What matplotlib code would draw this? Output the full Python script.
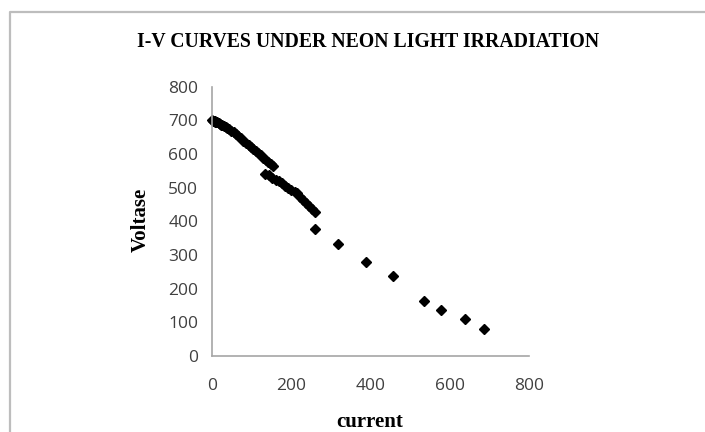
import matplotlib.pyplot as plt
from matplotlib.lines import Line2D

# I-V data
current = [0, 2, 4, 6, 8, 10, 13, 16, 19, 22, 26, 30, 34, 38, 43, 48, 54, 60,
           66, 72, 79, 86, 92, 98, 104, 110, 117, 123, 129, 135, 142, 148, 154,
           134, 143, 152, 160, 168, 176, 184, 192, 200, 208, 215, 222, 230, 236,
           244, 252, 259, 259, 318, 388, 458, 535, 579, 638, 688]
voltage = [700, 699, 698, 697, 696, 695, 694, 692, 690, 688, 686, 683, 680, 677,
           674, 670, 665, 659, 653, 647, 640, 633, 627, 621, 615, 609, 602, 596,
           589, 583, 576, 570, 565,
           542, 538, 530, 524, 520, 514, 506, 500, 494, 488, 483, 474, 464, 456,
           447, 438, 428, 377, 333, 278, 238, 162, 136, 110, 80]

x_ticks = [0, 200, 400, 600, 800]
y_ticks = [0, 100, 200, 300, 400, 500, 600, 700, 800]

fig = plt.figure(figsize=(7.05, 4.32), dpi=100)
ax = fig.add_axes([0.301, 0.176, 0.449, 0.623])

ax.plot(current, voltage, linestyle='none', marker='D', markersize=5.5,
        color='black', clip_on=False)

ax.set_xlim(0, 800)
ax.set_ylim(0, 800)
ax.set_xticks(x_ticks)
ax.set_yticks(y_ticks)
ax.tick_params(length=0, labelsize=12.5, labelcolor='#404040')
ax.tick_params(axis='x', pad=16)
ax.tick_params(axis='y', pad=10)
for lab in ax.get_xticklabels() + ax.get_yticklabels():
    lab.set_fontfamily('Open Sans')

for side in ['top', 'right']:
    ax.spines[side].set_visible(False)
for side in ['left', 'bottom']:
    ax.spines[side].set_color('#a6a6a6')
    ax.spines[side].set_linewidth(1.2)

fig.text(0.522, 0.902, 'I-V CURVES UNDER NEON LIGHT IRRADIATION',
         ha='center', va='center', fontsize=14.2, fontweight='bold',
         family='Liberation Serif')
fig.text(0.2, 0.49, 'Voltase', rotation=90, ha='center', va='center',
         fontsize=15, fontweight='bold', family='Liberation Serif')
fig.text(0.524, 0.022, 'current', ha='center', va='center',
         fontsize=15, fontweight='bold', family='Liberation Serif')

# outer frame (left and top edges only visible)
fig.add_artist(Line2D([0.0145, 0.0145, 1.0], [0.0, 0.972, 0.972],
                      transform=fig.transFigure, color='#bdbdbd', linewidth=1.6))

fig.savefig('out.png', dpi=100)
